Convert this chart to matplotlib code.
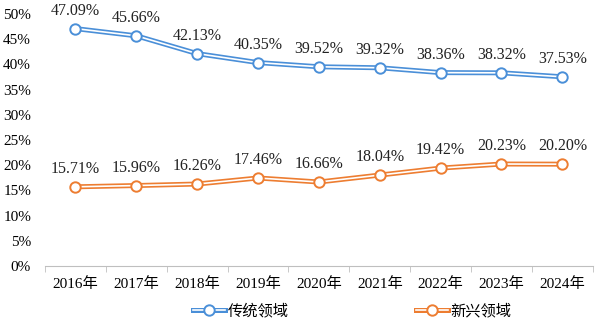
import matplotlib
matplotlib.use("Agg")
import matplotlib.pyplot as plt
from matplotlib.ticker import FuncFormatter, MultipleLocator, FixedLocator
from matplotlib.lines import Line2D
from matplotlib.legend_handler import HandlerTuple

plt.rcParams['font.family'] = ['Liberation Serif', 'Noto Sans CJK SC']

years = ["2016年", "2017年", "2018年", "2019年", "2020年", "2021年", "2022年", "2023年", "2024年"]
traditional = [47.09, 45.66, 42.13, 40.35, 39.52, 39.32, 38.36, 38.32, 37.53]
emerging = [15.71, 15.96, 16.26, 17.46, 16.66, 18.04, 19.42, 20.23, 20.20]
series_names = ["传统领域", "新兴领域"]
colors = ["#4A8FD8", "#ED7D31"]

fig = plt.figure(figsize=(6, 3.24), dpi=100)
ax = fig.add_axes([0.075, 0.179, 0.913, 0.778])

x = list(range(len(years)))
for vals, c in zip([traditional, emerging], colors):
    ax.plot(x, vals, color=c, lw=3.6, solid_capstyle='butt', zorder=2)
    ax.plot(x, vals, color='white', lw=1.2, solid_capstyle='butt', zorder=3)
    ax.plot(x, vals, ls='none', marker='o', ms=7.5, mfc='white', mec=c, mew=1.4, zorder=4)
    for xi, v in zip(x, vals):
        ax.annotate(f"{v:.2f}%", (xi, v), xytext=(0, 7), textcoords='offset points',
                    ha='center', va='bottom', fontsize=11.5, color='#222222')

ax.set_xlim(-0.5, len(years) - 0.5)
ax.set_ylim(0, 50)
ax.yaxis.set_major_locator(MultipleLocator(5))
ax.yaxis.set_major_formatter(FuncFormatter(lambda v, p: f"{int(round(v))}%"))
ax.set_xticks(x)
ax.set_xticklabels(years)
ax.xaxis.set_minor_locator(FixedLocator([i - 0.5 for i in range(len(years) + 1)]))
ax.tick_params(axis='x', which='major', length=0, pad=8, labelsize=11)
ax.tick_params(axis='x', which='minor', length=4, color='#BFBFBF')
ax.tick_params(axis='y', length=0, labelsize=11, pad=10)
for s in ['top', 'right', 'left']:
    ax.spines[s].set_visible(False)
ax.spines['bottom'].set_color('#BFBFBF')

handles = []
for n, c in zip(series_names, colors):
    handles.append((Line2D([], [], color=c, lw=3.6), Line2D([], [], color='white', lw=1.2),
                    Line2D([], [], ls='none', marker='o', ms=7.5, mfc='white', mec=c, mew=1.4)))
fig.legend(handles, series_names, loc='lower center', bbox_to_anchor=(0.587, -0.025), ncol=2,
           frameon=False, fontsize=11, handler_map={tuple: HandlerTuple(ndivide=1, pad=0)},
           handlelength=2.1, columnspacing=8.3, handletextpad=0.2)

fig.savefig("out.png", dpi=100)
